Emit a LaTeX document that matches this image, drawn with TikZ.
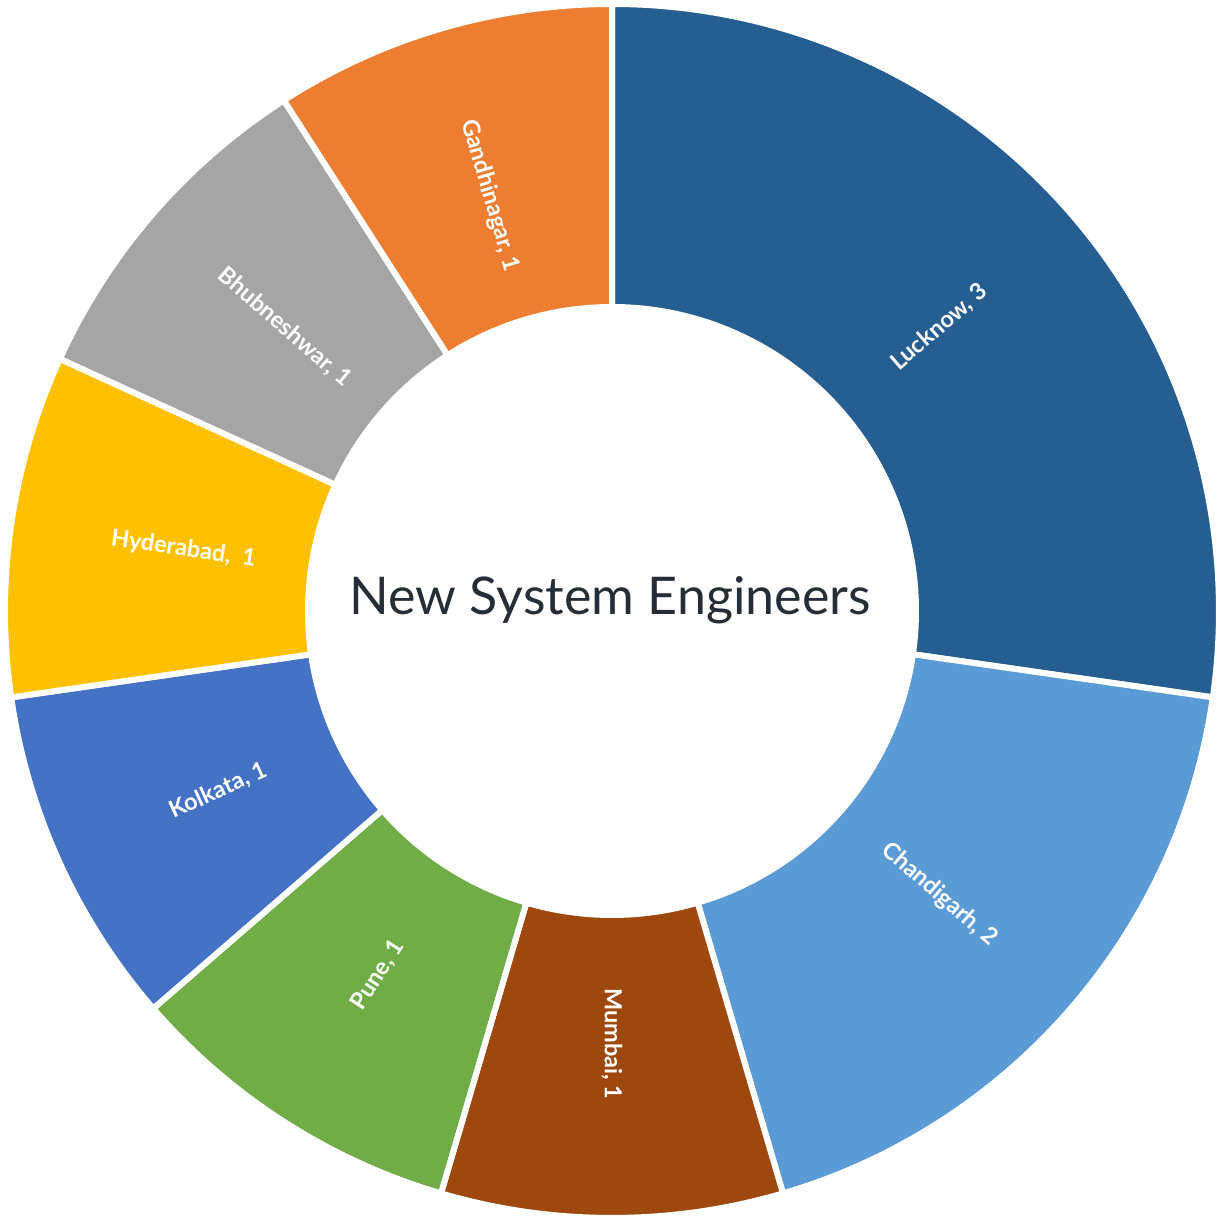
\documentclass[tikz,border=0pt]{standalone}
\usepackage{fontspec}
\setmainfont{Lato}
\definecolor{cLuck}{HTML}{255E91}
\definecolor{cChan}{HTML}{5B9BD5}
\definecolor{cMumb}{HTML}{9E480E}
\definecolor{cPune}{HTML}{70AD47}
\definecolor{cKolk}{HTML}{4472C4}
\definecolor{cHyde}{HTML}{FFC000}
\definecolor{cBhub}{HTML}{A5A5A5}
\definecolor{cGand}{HTML}{ED7D31}
\definecolor{cText}{HTML}{252E36}
\begin{document}
\begin{tikzpicture}[x=1pt,y=1pt,
  slice/.style={draw=white,line width=6pt,line join=miter},
  slabel/.style={text=white,font=\fontsize{23.5}{26}\selectfont\bfseries,inner sep=0pt}]
\useasboundingbox (0,0) rectangle (1221,1216);
\pgfmathsetmacro{\u}{360/11}
\def\Ro{607}
\def\Ri{304}
\def\Rl{433}
\begin{scope}[shift={(612,605)}]
% name, color, start cum, end cum, label
\foreach \nm/\col/\a/\b/\txt in {
  luck/cLuck/0/3/{Lucknow, 3},
  chan/cChan/3/5/{Chandigarh, 2},
  mumb/cMumb/5/6/{Mumbai, 1},
  pune/cPune/6/7/{Pune, 1},
  kolk/cKolk/7/8/{Kolkata, 1},
  hyde/cHyde/8/9/{Hyderabad,\ \ 1},
  bhub/cBhub/9/10/{Bhubneshwar, 1},
  gand/cGand/10/11/{Gandhinagar, 1}}{
  \pgfmathsetmacro{\sa}{90-\u*\a}
  \pgfmathsetmacro{\ea}{90-\u*\b}
  \pgfmathsetmacro{\ma}{(\sa+\ea)/2}
  \pgfmathsetmacro{\rot}{ifthenelse(\ma<-90,\ma+180,ifthenelse(\ma>90,\ma-180,\ma))}
  \fill[slice,fill=\col] (\sa:\Ro) arc[start angle=\sa,end angle=\ea,radius=\Ro]
     -- (\ea:\Ri) arc[start angle=\ea,end angle=\sa,radius=\Ri] -- cycle;
  \node[slabel,rotate=\rot] (\nm) at (\ma:\Rl) {\txt};
}
\node[text=cText,font=\fontsize{52}{58}\selectfont] (title) at (-2,11) {New System Engineers};
\end{scope}
\end{tikzpicture}
\end{document}
